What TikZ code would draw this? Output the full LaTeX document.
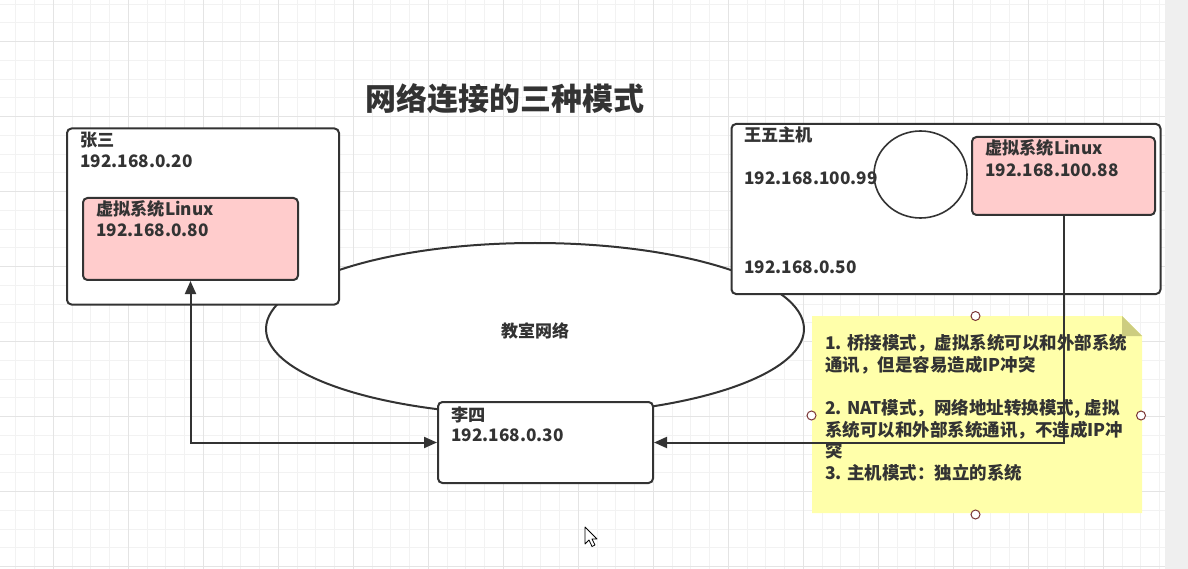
\documentclass[tikz,border=0pt]{standalone}
\usepackage{fontspec}
\setmainfont{Noto Sans CJK SC}
\usetikzlibrary{arrows.meta,shapes.geometric}
\definecolor{dk}{HTML}{333333}
\definecolor{gminor}{HTML}{F2F2F2}
\definecolor{gmajor}{HTML}{E4E4E4}
\definecolor{pinkc}{HTML}{FFCCCC}
\definecolor{notec}{HTML}{FFFFAA}
\definecolor{foldc}{HTML}{CDCD80}
\definecolor{handlec}{HTML}{7A3535}
\definecolor{stripc}{HTML}{EFEFEF}
\begin{document}
\begin{tikzpicture}[x=1pt,y=-1pt,
  box/.style={draw=dk, line width=2pt, fill=white, rounded corners=4.5pt, anchor=north west, inner sep=0},
  pinkbox/.style={box, fill=pinkc},
  lbl/.style={anchor=base west, inner sep=0, text=dk, font=\bfseries\fontsize{17.2}{21}\selectfont},
  notelbl/.style={anchor=base west, inner sep=0, text=dk, font=\bfseries\fontsize{17.5}{21}\selectfont},
  conn/.style={draw=dk, line width=2pt},
  handle/.style={circle, draw=handlec, fill=white, line width=1pt, minimum size=9pt, inner sep=0}
]
\useasboundingbox (0,0) rectangle (1188,569);
\fill[white] (0,0) rectangle (1188,569);
% grid
\draw[gminor, line width=1pt] foreach \i in {0,...,62} {({-2.92+18.75*\i},0) -- ({-2.92+18.75*\i},569)};
\draw[gminor, line width=1pt] foreach \i in {0,...,30} {(0,{4.17+18.75*\i}) -- (1165,{4.17+18.75*\i})};
\draw[gmajor, line width=1pt] foreach \i in {0,...,14} {({53.33+75*\i},0) -- ({53.33+75*\i},569)};
\draw[gmajor, line width=1pt] foreach \i in {0,...,7} {(0,{41.67+75*\i}) -- (1165,{41.67+75*\i})};
\fill[stripc] (1165,0) rectangle (1188,569);

% title
\node[anchor=center, inner sep=0, text=dk, font=\bfseries\fontsize{31}{36}\selectfont] (title) at (505,99) {网络连接的三种模式};

% ellipse
\node[draw=dk, line width=2pt, fill=white, ellipse, minimum width=538pt, minimum height=172pt, inner sep=0] (net) at (535,329) {};
\node[anchor=center, inner sep=0, text=dk, font=\bfseries\fontsize{17}{20}\selectfont] (netlbl) at (535,331) {教室网络};

% boxes
\node[box, minimum width=272pt, minimum height=176pt] (zs) at (66,127.5) {};
\node[pinkbox, minimum width=215pt, minimum height=82pt] (p1) at (82,197) {};
\node[box, minimum width=215pt, minimum height=81pt] (ls) at (437,401) {};
\node[box, minimum width=429pt, minimum height=170pt] (ww) at (730.5,123) {};
\node[pinkbox, minimum width=183pt, minimum height=78pt] (p2) at (971,136) {};
\node[draw=dk, line width=1.6pt, fill=white, ellipse, minimum width=93pt, minimum height=87pt, inner sep=0] (nic) at (920.5,174.5) {};

% note
\fill[notec] (812,316) -- (1122,316) -- (1142,336) -- (1142,513) -- (812,513) -- cycle;
\fill[foldc] (1122,316) -- (1142,336) -- (1122,336) -- cycle;
\node[handle] (h1) at (975.5,316) {};
\node[handle] (h2) at (811.5,415.5) {};
\node[handle] (h3) at (1141,415.5) {};
\node[handle] (h4) at (975.5,514.5) {};

% connectors
\draw[conn, {Triangle[length=13pt,width=11pt]}-{Triangle[length=13pt,width=11pt]}] (ls.west) -| (p1.south);
\draw[conn, -{Triangle[length=13pt,width=11pt]}] (p2.south) |- (ls.east);

% labels
\node[lbl] (zs1) at (80,147) {张三};
\node[lbl] (zs2) at (80,168) {192.168.0.20};
\node[lbl] (p1a) at (96,216) {虚拟系统Linux};
\node[lbl] (p1b) at (96,237) {192.168.0.80};
\node[lbl] (ls1) at (451,421) {李四};
\node[lbl] (ls2) at (451,441) {192.168.0.30};
\node[lbl] (ww1) at (744,142) {王五主机};
\node[lbl] (ww2) at (744,185) {192.168.100.99};
\node[lbl] (ww3) at (744,273) {192.168.0.50};
\node[lbl] (p2a) at (985,155) {虚拟系统Linux};
\node[lbl] (p2b) at (985,177) {192.168.100.88};

\node[notelbl] (n1) at (825,349) {1. 桥接模式，虚拟系统可以和外部系统};
\node[notelbl] (n2) at (825,371) {通讯，但是容易造成IP冲突};
\node[notelbl] (n3) at (825,414) {2. NAT模式，网络地址转换模式, 虚拟};
\node[notelbl] (n4) at (825,436) {系统可以和外部系统通讯，不造成IP冲};
\node[notelbl] (n5) at (825,457) {突};
\node[notelbl] (n6) at (825,479) {3. 主机模式：独立的系统};

% cursor
\filldraw[fill=white, draw=black, line width=0.8pt, line join=round] (585,527) -- (585,544) -- (589,540) -- (592,546.5) -- (595,545) -- (592,539) -- (597,539) -- cycle;
\end{tikzpicture}
\end{document}
